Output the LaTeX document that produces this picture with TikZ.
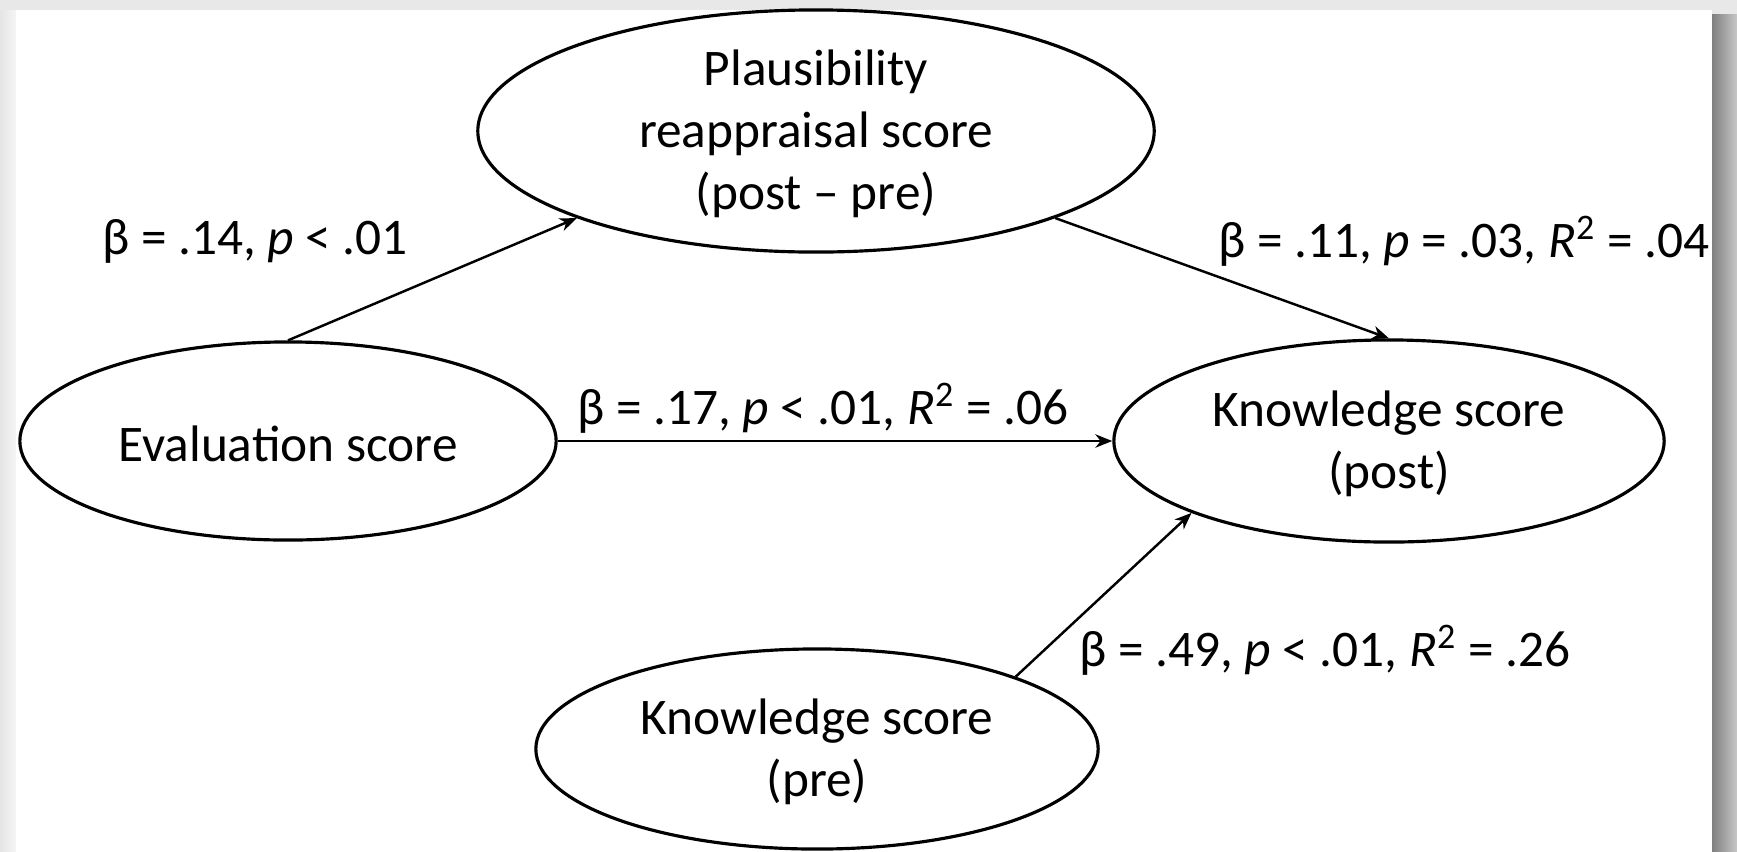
\documentclass[tikz,border=0pt]{standalone}
\usepackage{fontspec}
\setmainfont{Carlito}
\usetikzlibrary{shapes.geometric,arrows.meta}
\begin{document}
\begin{tikzpicture}[x=0.01cm,y=-0.01cm,
  construct/.style={draw, ellipse, line width=0.9pt, inner sep=0pt},
  inner/.style={align=center, yshift=-0.9pt, font=\fontsize{14.6}{17.6}\selectfont},
  coef/.style={font=\fontsize{14.6}{17.6}\selectfont, inner sep=0pt},
  path/.style={line width=0.7pt, -{Stealth[length=4.8pt,width=3.8pt,inset=1.5pt]}}]
% frame with drop shadow
\useasboundingbox (0,0) rectangle (1737,851);
\fill[black!9] (0,0) rectangle (1737,851);
\shade[left color=black!10, right color=black!4] (0,10) rectangle (16,851);
\shade[left color=black!50, right color=black!22] (1712,14) rectangle (1737,851);
\fill[white] (16,10) rectangle (1712,851);

% constructs
\node[construct, minimum width=6.76cm, minimum height=2.42cm,
  label={[inner]center:Plausibility\\reappraisal score\\(post – pre)}] (pl) at (816,131) {};
\node[construct, minimum width=5.36cm, minimum height=1.98cm,
  label={[inner]center:Evaluation score}] (ev) at (288,441) {};
\node[construct, minimum width=5.50cm, minimum height=2.02cm,
  label={[inner]center:Knowledge score\\(post)}] (kp) at (1389,441) {};
\node[construct, minimum width=5.62cm, minimum height=2.00cm,
  label={[inner]center:Knowledge score\\(pre)}] (kr) at (817,749) {};

% paths
\draw[path] (ev.north) -- (pl.200);
\draw[path] (pl.340) -- (kp.north);
\draw[path] (ev.east) -- (kp.west);
\draw[path] (kr.20) -- (kp.200);

% coefficients
\node[coef] (c1) at (255,241) {β = .14, \textit{p} < .01};
\node[coef] (c2) at (1464,241) {β = .11, \textit{p} = .03, \textit{R}\textsuperscript{2} = .04};
\node[coef] (c3) at (823,408) {β = .17, \textit{p} < .01, \textit{R}\textsuperscript{2} = .06};
\node[coef] (c4) at (1325,650) {β = .49, \textit{p} < .01, \textit{R}\textsuperscript{2} = .26};
\end{tikzpicture}
\end{document}
